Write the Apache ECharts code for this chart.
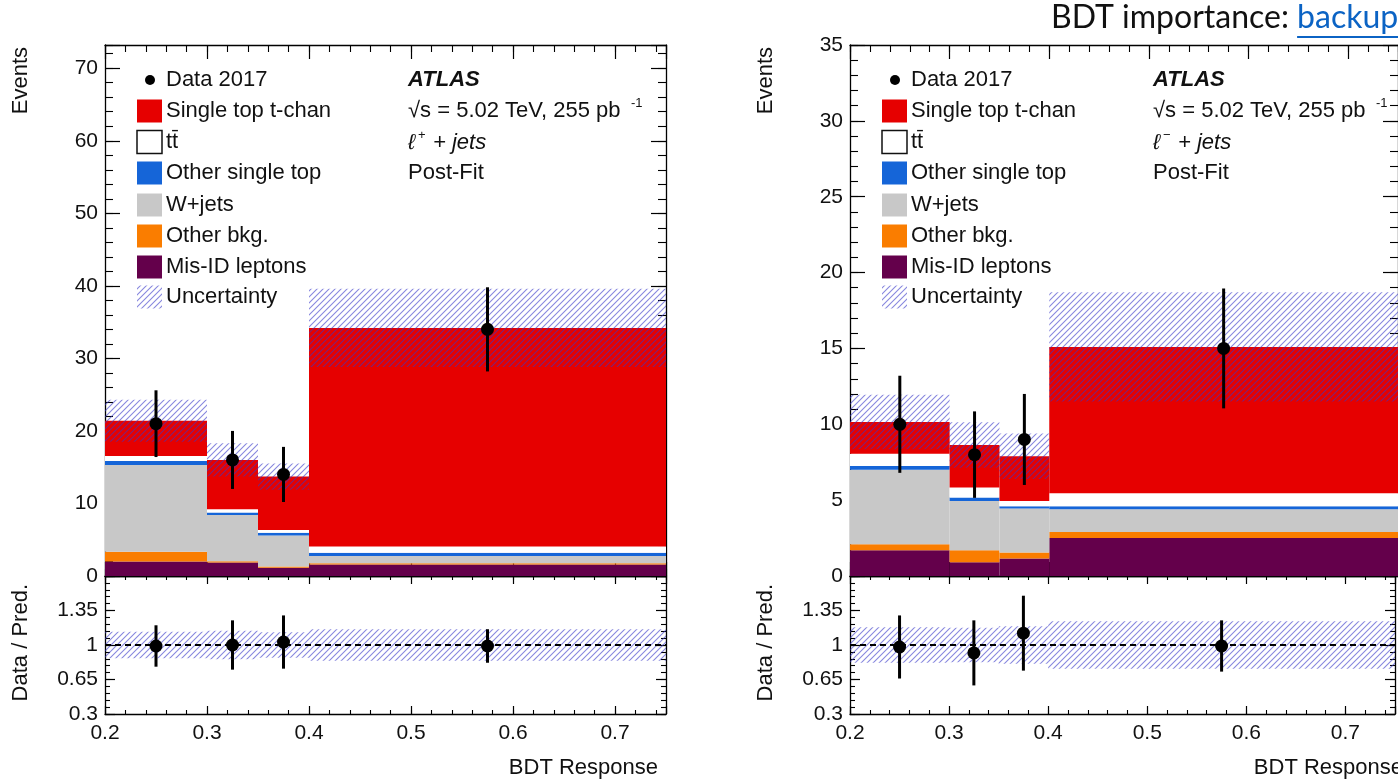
<!DOCTYPE html>
<html><head><meta charset="utf-8">
<script src="https://cdn.jsdelivr.net/npm/echarts@6/dist/echarts.min.js"></script>
<style>html,body{margin:0;padding:0;background:#fff;}#c{width:1398px;height:779px;}</style>
</head><body><div id="c"></div>
<script>
// ---------------- data ----------------
const binEdges = [0.2, 0.3, 0.35, 0.4, 0.75];
const binCenters = [0.25, 0.325, 0.375, 0.575];
const xTickLabels = [0.2, 0.3, 0.4, 0.5, 0.6, 0.7];
const yTickLabelsLeft = [0, 10, 20, 30, 40, 50, 60, 70];
const yTickLabelsRight = [0, 5, 10, 15, 20, 25, 30, 35];
const ratioTickLabels = [0.3, 0.65, 1, 1.35];
const processNames = ['Mis-ID leptons', 'Other bkg.', 'W+jets', 'Other single top', 'tt̄', 'Single top t-chan'];

// l+ jets (left)
const lpMisID    = [2.0, 1.85, 1.15, 1.6];
const lpOtherBkg = [1.35, 0.2, 0.15, 0.15];
const lpWjets    = [11.95, 6.35, 4.3, 1.0];
const lpOtherTop = [0.55, 0.35, 0.35, 0.45];
const lpTtbar    = [0.7, 0.45, 0.4, 0.85];
const lpTchan    = [4.85, 6.8, 7.35, 30.15];
const lpUnc      = [2.9, 2.3, 1.8, 5.4];
const lpData     = [21, 16, 14, 34];
const lpDataErr  = [4.6, 4.0, 3.8, 5.8];
const lpRatio    = [0.99, 1.0, 1.03, 0.99];
const lpRatioErr = [0.21, 0.25, 0.27, 0.17];
const lpRatioUnc = [0.135, 0.145, 0.13, 0.16];

// l- jets (right)
const lmMisID    = [1.7, 0.9, 1.15, 2.5];
const lmOtherBkg = [0.4, 0.8, 0.4, 0.4];
const lmWjets    = [4.9, 3.25, 2.9, 1.5];
const lmOtherTop = [0.25, 0.23, 0.15, 0.2];
const lmTtbar    = [0.8, 0.65, 0.35, 0.85];
const lmTchan    = [2.1, 2.8, 2.95, 9.65];
const lmUnc      = [1.8, 1.5, 1.5, 3.6];
const lmData     = [10, 8, 9, 15];
const lmDataErr  = [3.2, 2.85, 3.0, 3.95];
const lmRatio    = [0.98, 0.92, 1.12, 0.99];
const lmRatioErr = [0.32, 0.33, 0.38, 0.26];
const lmRatioUnc = [0.18, 0.175, 0.19, 0.24];

// ---------------- styling ----------------
const FONT = '"Liberation Sans", Arial, Helvetica, sans-serif';
const colors = ['#64004b', '#fa7d00', '#c8c8c8', '#1565d8', '#ffffff', '#e60000'];

function makeHatch() {
  const s = 6, c = document.createElement('canvas');
  c.width = s; c.height = s;
  const g = c.getContext('2d');
  g.strokeStyle = 'rgba(55,55,200,0.6)';
  g.lineWidth = 1.1;
  g.beginPath();
  g.moveTo(0, s); g.lineTo(s, 0);
  g.moveTo(-1, 1); g.lineTo(1, -1);
  g.moveTo(s - 1, s + 1); g.lineTo(s + 1, s - 1);
  g.stroke();
  return c;
}
const hatch = { image: makeHatch(), repeat: 'repeat' };

const grids = [
  { left: 105, top: 45, width: 561, height: 531 },
  { left: 105, top: 576, width: 561, height: 138 },
  { left: 850, top: 45, width: 559, height: 531 },
  { left: 850, top: 576, width: 559, height: 138 }
];

const xAxes = [], yAxes = [];
function near(list, v) { return list.some(t => Math.abs(t - v) < 1e-6); }
function addAxes(list, gi, horiz, o) {
  const idx = list.length;
  const sides = horiz ? ['bottom', 'top'] : ['left', 'right'];
  const base = {
    type: 'value', gridIndex: gi, min: o.min, max: o.max, splitLine: { show: false },
    axisLine: { show: true, onZero: false, lineStyle: { color: '#000', width: 1.3 } }
  };
  sides.forEach((pos, si) => {
    list.push(Object.assign({}, base, {
      position: pos, interval: o.major,
      axisTick: { show: true, inside: true, length: o.majLen, lineStyle: { color: '#000', width: 1.2 } },
      axisLabel: {
        show: si === 0 && !!o.labels, interval: 0, margin: o.margin, color: '#111',
        fontSize: 21, fontFamily: FONT, hideOverlap: false,
        formatter: v => (o.labels && near(o.labels, v)) ? o.fmt(v) : ''
      }
    }));
  });
  sides.forEach(pos => {
    list.push(Object.assign({}, base, {
      position: pos, interval: o.minor,
      axisLine: { show: false, onZero: false },
      axisTick: { show: true, inside: true, length: o.minLen, lineStyle: { color: '#000', width: 1.1 } },
      axisLabel: { show: false }
    }));
  });
  return idx;
}
const fmtX = v => v.toFixed(1);
const fmtInt = v => String(Math.round(v));
const fmtR = v => String(parseFloat(v.toFixed(2)));

const ax = [];
ax[0] = {
  x: addAxes(xAxes, 0, true, { min: 0.2, max: 0.75, major: 0.1, minor: 0.02, majLen: 14, minLen: 7 }),
  y: addAxes(yAxes, 0, false, { min: 0, max: 73.2, major: 10, minor: 2, majLen: 15, minLen: 8, labels: yTickLabelsLeft, fmt: fmtInt, margin: 7 })
};
ax[1] = {
  x: addAxes(xAxes, 1, true, { min: 0.2, max: 0.75, major: 0.1, minor: 0.02, majLen: 8, minLen: 4, labels: xTickLabels, fmt: fmtX, margin: 9 }),
  y: addAxes(yAxes, 1, false, { min: 0.3, max: 1.7, major: 0.35, minor: 0.07, majLen: 10, minLen: 5, labels: ratioTickLabels, fmt: fmtR, margin: 7 })
};
ax[2] = {
  x: addAxes(xAxes, 2, true, { min: 0.2, max: 0.75, major: 0.1, minor: 0.02, majLen: 14, minLen: 7 }),
  y: addAxes(yAxes, 2, false, { min: 0, max: 35, major: 5, minor: 1, majLen: 15, minLen: 8, labels: yTickLabelsRight, fmt: fmtInt, margin: 7 })
};
ax[3] = {
  x: addAxes(xAxes, 3, true, { min: 0.2, max: 0.75, major: 0.1, minor: 0.02, majLen: 8, minLen: 4, labels: xTickLabels, fmt: fmtX, margin: 9 }),
  y: addAxes(yAxes, 3, false, { min: 0.3, max: 1.7, major: 0.35, minor: 0.07, majLen: 10, minLen: 5, labels: ratioTickLabels, fmt: fmtR, margin: 7 })
};

function rectRender(fill) {
  return function (params, api) {
    const p0 = api.coord([api.value(0), api.value(3)]);
    const p1 = api.coord([api.value(1), api.value(2)]);
    return { type: 'rect', shape: { x: p0[0], y: p0[1], width: p1[0] - p0[0], height: p1[1] - p0[1] }, style: { fill: fill } };
  };
}
function pointRender(params, api) {
  const x = api.value(0), y = api.value(1), e = api.value(2);
  const c = api.coord([x, y]), t = api.coord([x, y + e]), b = api.coord([x, y - e]);
  return {
    type: 'group', children: [
      { type: 'line', shape: { x1: c[0], y1: t[1], x2: c[0], y2: b[1] }, style: { stroke: '#000', lineWidth: 3 } },
      { type: 'circle', shape: { cx: c[0], cy: c[1], r: 6.5 }, style: { fill: '#000' } }
    ]
  };
}

const series = [];
function addPanel(mainIdx, ratioIdx, comps, unc, data, dataErr, ratio, ratioErr, ratioUnc) {
  const m = ax[mainIdx], r = ax[ratioIdx];
  const cum = [0, 0, 0, 0];
  comps.forEach((vals, k) => {
    const items = vals.map((v, i) => {
      const it = [binEdges[i], binEdges[i + 1], cum[i], cum[i] + v];
      cum[i] += v;
      return it;
    });
    series.push({ type: 'custom', name: processNames[k], xAxisIndex: m.x, yAxisIndex: m.y, z: 2,
      renderItem: rectRender(colors[k]), data: items, encode: { x: [0, 1], y: [2, 3] }, silent: true });
  });
  series.push({ type: 'custom', name: 'Uncertainty', xAxisIndex: m.x, yAxisIndex: m.y, z: 3,
    renderItem: rectRender(hatch), encode: { x: [0, 1], y: [2, 3] },
    data: unc.map((u, i) => [binEdges[i], binEdges[i + 1], cum[i] - u, cum[i] + u]) });
  series.push({ type: 'custom', name: 'Data 2017', xAxisIndex: m.x, yAxisIndex: m.y, z: 5,
    renderItem: pointRender, encode: { x: 0, y: 1 },
    data: data.map((d, i) => [binCenters[i], d, dataErr[i]]) });
  series.push({ type: 'custom', name: 'Ratio unc', xAxisIndex: r.x, yAxisIndex: r.y, z: 3,
    renderItem: rectRender(hatch), encode: { x: [0, 1], y: [2, 3] },
    data: ratioUnc.map((u, i) => [binEdges[i], binEdges[i + 1], 1 - u, 1 + u]) });
  series.push({ type: 'line', xAxisIndex: r.x, yAxisIndex: r.y, z: 4, symbol: 'none', silent: true,
    lineStyle: { color: '#000', width: 2, type: [6, 4] },
    data: [[binEdges[0], 1], [binEdges[binEdges.length - 1], 1]] });
  series.push({ type: 'custom', name: 'Ratio', xAxisIndex: r.x, yAxisIndex: r.y, z: 5,
    renderItem: pointRender, encode: { x: 0, y: 1 },
    data: ratio.map((d, i) => [binCenters[i], d, ratioErr[i]]) });
}
addPanel(0, 1, [lpMisID, lpOtherBkg, lpWjets, lpOtherTop, lpTtbar, lpTchan], lpUnc, lpData, lpDataErr, lpRatio, lpRatioErr, lpRatioUnc);
addPanel(2, 3, [lmMisID, lmOtherBkg, lmWjets, lmOtherTop, lmTtbar, lmTchan], lmUnc, lmData, lmDataErr, lmRatio, lmRatioErr, lmRatioUnc);

// ---------------- graphic texts / legend ----------------
const graphic = [];
function txt(x, y, text, o) {
  o = o || {};
  graphic.push({ type: 'text', x: x, y: y, rotation: o.rot || 0, z: 100,
    style: { text: text, fill: o.color || '#111', fontSize: o.size || 22, fontFamily: o.family || FONT,
      fontWeight: o.weight || 'normal', fontStyle: o.style || 'normal',
      textAlign: o.align || 'left', textVerticalAlign: o.valign || 'middle' } });
}
const legendRows = [80, 111, 142, 173, 205, 236, 267, 297];
const legendLabels = ['Data 2017', 'Single top t-chan', 'tt̄', 'Other single top', 'W+jets', 'Other bkg.', 'Mis-ID leptons', 'Uncertainty'];
const legendFills = [null, colors[5], colors[4], colors[3], colors[2], colors[1], colors[0], hatch];
function panelDecor(dx, sign) {
  txt(21 + dx, 47, 'Events', { rot: Math.PI / 2, align: 'right' });
  txt(21 + dx, 584, 'Data / Pred.', { rot: Math.PI / 2, align: 'right' });
  txt(658 + dx, 768, 'BDT Response', { align: 'right' });
  legendLabels.forEach((lab, i) => {
    const y = legendRows[i];
    if (i === 0) {
      graphic.push({ type: 'circle', z: 100, shape: { cx: 150 + dx, cy: y, r: 5 }, style: { fill: '#000' } });
    } else {
      graphic.push({ type: 'rect', z: 100, shape: { x: 137 + dx, y: y - 11.5, width: 25, height: 23 },
        style: { fill: legendFills[i], stroke: i === 2 ? '#111' : null, lineWidth: i === 2 ? 1.5 : 0 } });
    }
    txt(166 + dx, y, lab);
  });
  txt(408 + dx, 80, 'ATLAS', { weight: 'bold', style: 'italic' });
  txt(408 + dx, 111, '√s = 5.02 TeV, 255 pb');
  txt(631 + dx, 103, '-1', { size: 13 });
  txt(408 + dx, 143, 'ℓ', { style: 'italic' });
  txt(418 + dx, 135, sign, { size: 13 });
  txt(433 + dx, 143, '+ jets', { style: 'italic' });
  txt(408 + dx, 173, 'Post-Fit');
}
panelDecor(0, '+');
panelDecor(745, '−');

// title with link
const tSize = 32;
const meas = document.createElement('canvas').getContext('2d');
meas.font = tSize + 'px Lato';
const t1 = 'BDT importance: ';
const w1 = meas.measureText(t1).width;
const w2 = meas.measureText('backup').width;
const tx = 1051;
txt(tx, 18, t1, { size: tSize, family: 'Lato', color: '#111' });
txt(tx + w1, 18, 'backup', { size: tSize, family: 'Lato', color: '#0b63c4' });
graphic.push({ type: 'rect', z: 100, shape: { x: tx + w1, y: 36, width: w2, height: 2 }, style: { fill: '#0b63c4' } });

const chart = echarts.init(document.getElementById('c'), null, { renderer: 'canvas' });
chart.setOption({
  animation: false,
  backgroundColor: '#fff',
  grid: grids,
  xAxis: xAxes,
  yAxis: yAxes,
  series: series,
  graphic: graphic
});
</script></body></html>
